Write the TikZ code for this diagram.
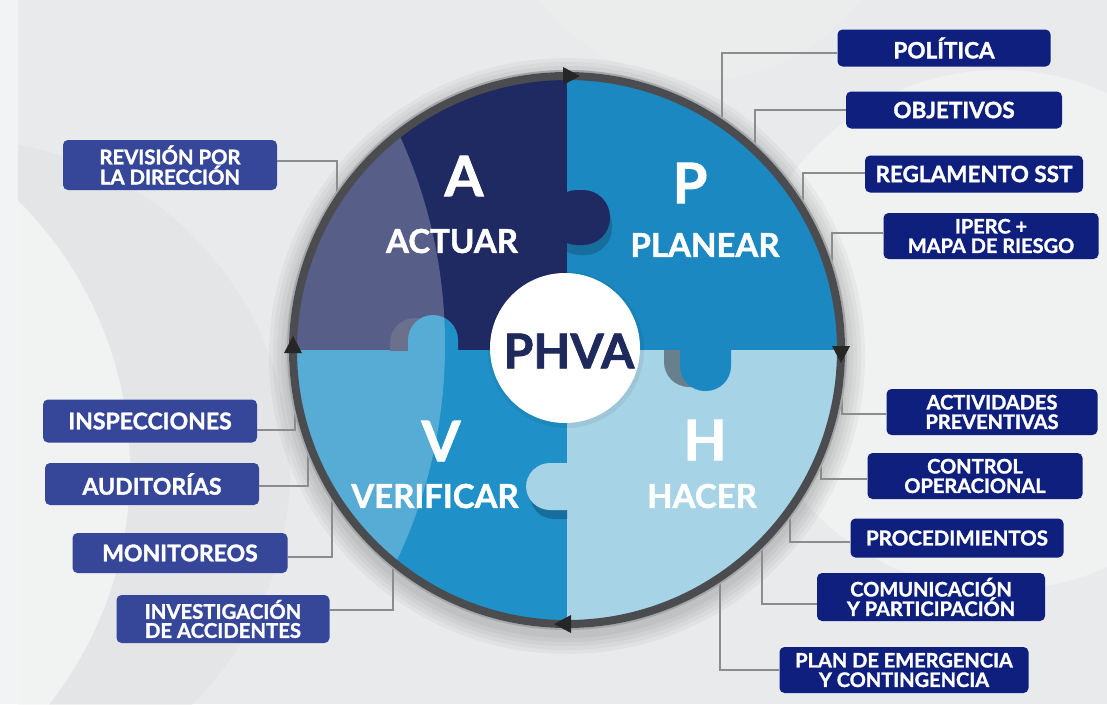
\documentclass[tikz,border=0pt]{standalone}
\usepackage{fontspec}
\setmainfont{Lato}[BoldFeatures={FakeBold=1.5}]
\usetikzlibrary{calc}
\definecolor{bgc}{HTML}{E8EAEB}
\definecolor{navyq}{HTML}{1F2A62}
\definecolor{pq}{HTML}{1B88C2}
\definecolor{vq}{HTML}{1F91C8}
\definecolor{hq}{HTML}{A7D3E6}
\definecolor{ringc}{HTML}{4B4C50}
\definecolor{rbox}{HTML}{0E1F7E}
\definecolor{lbox}{HTML}{36479A}
\definecolor{phvac}{HTML}{1F2A5C}
\definecolor{linec}{HTML}{8C8C8C}
\definecolor{shteal}{HTML}{176E9C}
\definecolor{shgrey}{HTML}{687F8C}
\definecolor{shnavy}{HTML}{3A4168}
\tikzset{
 rb/.style={fill=rbox, rounded corners=5pt, text=white, font=\bfseries\fontsize{22.5}{23}\selectfont, align=center, inner sep=0pt, minimum height=37pt},
 rb2/.style={rb, font=\bfseries\fontsize{20}{19.5}\selectfont, minimum height=46pt},
 lb/.style={rb, fill=lbox, font=\bfseries\fontsize{23}{24}\selectfont, minimum height=42pt},
 lb2/.style={lb, font=\bfseries\fontsize{20.3}{19}\selectfont, minimum height=49pt},
 conn/.style={draw=linec, line width=1.2pt},
 bigl/.style={text=white, font=\bfseries\fontsize{56}{56}\selectfont},
 wordl/.style={text=white, font=\bfseries\fontsize{33}{33}\selectfont},
 tri/.style={fill=black!85},
}
\begin{document}
\begin{tikzpicture}[x=1pt,y=-1pt]
\useasboundingbox (0,0) rectangle (1107,704);
% background
\fill[bgc] (0,0) rectangle (1107,704);
\fill[white,opacity=0.45] (0,0) rectangle (18,704);
\begin{scope}
\clip (18,0) rectangle (1107,704);
\fill[black!12,opacity=0.45] (-40,470) circle (330pt);
\fill[white,opacity=0.5] (-250,470) circle (380pt);
\fill[white,opacity=0.35] (1000,330) circle (260pt);
\fill[white,opacity=0.15] (700,-120) circle (200pt);
\end{scope}
% circle shadow
\foreach \r in {282,286,290,294,298}
  \fill[black,opacity=0.035] (567,356) circle (\r pt);

% connector end points (under the wheel)
\coordinate (cpol) at (722,141);
\coordinate (cobj) at (755,170);
\coordinate (creg) at (803,241);
\coordinate (cipe) at (832,300);
\coordinate (cact) at (842,372);
\coordinate (ccon) at (821,435);
\coordinate (cpro) at (790,499);
\coordinate (ccom) at (762,534);
\coordinate (cpla) at (720,570);
\coordinate (crev) at (337,212);
\coordinate (cins) at (295,385);
\coordinate (caud) at (308,419);
\coordinate (cmon) at (332,479);
\coordinate (cinv) at (393,554);

% boxes right
\node[rb, minimum width=213pt] (pol) at (944,48) {POLÍTICA};
\node[rb, minimum width=216pt] (obj) at (954,110) {OBJETIVOS};
\node[rb, minimum width=218pt] (reg) at (974,174) {REGLAMENTO SST};
\node[rb2, minimum width=215pt] (ipe) at (991,236) {IPERC +\\MAPA DE RIESGO};
\node[rb2, minimum width=211pt] (act) at (992,412) {ACTIVIDADES\\PREVENTIVAS};
\node[rb2, minimum width=215pt] (con) at (975,476) {CONTROL\\OPERACIONAL};
\node[rb, font=\bfseries\fontsize{20.5}{21}\selectfont, minimum width=213pt, minimum height=39pt] (pro) at (957,538) {PROCEDIMIENTOS};
\node[rb2, minimum width=228pt, minimum height=48pt] (com) at (931,597) {COMUNICACIÓN\\Y PARTICIPACIÓN};
\node[rb2, minimum width=249pt] (pla) at (904,670) {PLAN DE EMERGENCIA\\Y CONTINGENCIA};
% boxes left
\node[lb2, minimum width=214pt, minimum height=50pt] (rev) at (170,165) {REVISIÓN POR\\LA DIRECCIÓN};
\node[lb, minimum width=214pt, minimum height=43pt] (ins) at (150,421) {INSPECCIONES};
\node[lb, minimum width=214pt] (aud) at (152,484) {AUDITORÍAS};
\node[lb, minimum width=215pt, minimum height=40pt] (mon) at (180,553) {MONITOREOS};
\node[lb2, minimum width=213pt, minimum height=48pt] (inv) at (223,619) {INVESTIGACIÓN\\DE ACCIDENTES};

% connectors
\draw[conn] ([yshift=-5pt]pol.west) -| (cpol);
\draw[conn] (obj.west) -| (cobj);
\draw[conn] ([yshift=1pt]reg.west) -| (creg);
\draw[conn] ([yshift=3pt]ipe.west) -| (cipe);
\draw[conn] ([yshift=-2pt]act.west) -| (cact);
\draw[conn] ([yshift=-3pt]con.west) -| (ccon);
\draw[conn] ([yshift=-4pt]pro.west) -| (cpro);
\draw[conn] ([yshift=-7pt]com.west) -| (ccom);
\draw[conn] (pla.west) -| (cpla);
\draw[conn] ([yshift=4pt]rev.east) -| (crev);
\draw[conn] ([yshift=-9pt]ins.east) -| (cins);
\draw[conn] ([yshift=-2pt]aud.east) -| (caud);
\draw[conn] ([yshift=-4pt]mon.east) -| (cmon);
\draw[conn] ([yshift=9pt]inv.east) -| (cinv);

% wheel
\begin{scope}
\clip (567,350) circle (276pt);
\fill[navyq] (267,50) rectangle (567,350);
\fill[pq] (567,50) rectangle (867,350);
\fill[vq] (267,350) rectangle (567,650);
\fill[hq] (567,350) rectangle (867,650);
% tab A -> P
\begin{scope}
\clip (567,50) rectangle (867,350);
\fill[shteal, rounded corners=27pt] (553,198) rectangle (612,255);
\end{scope}
\fill[navyq, rounded corners=27pt] (550,190) rectangle (610,245);
% tab P -> H
\begin{scope}
\clip (567,350) rectangle (867,650);
\fill[shgrey, rounded corners=25pt] (664,325) rectangle (716,387);
\end{scope}
\fill[pq, rounded corners=25pt] (680,325) rectangle (731,391);
% tab V -> A
\begin{scope}
\clip (267,50) rectangle (567,350);
\fill[shnavy, rounded corners=25pt] (390,318) rectangle (440,375);
\end{scope}
\fill[vq, rounded corners=25pt] (408,315) rectangle (458,375);
% tab H -> V
\begin{scope}
\clip (267,350) rectangle (567,650);
\fill[shteal, rounded corners=24pt] (530,472) rectangle (590,519);
\end{scope}
\fill[hq, rounded corners=24pt] (526,463) rectangle (590,510);
% light lens on the left
\fill[white,opacity=0.25] (-60,345) circle (505pt);
\end{scope}
% ring
\draw[black!35, line width=2pt] (567,350) circle (279pt);
\draw[ringc, line width=8pt] (567,350) circle (274pt);
% arrow heads
\fill[tri] (563,67) -- (580,76) -- (563,85) -- cycle;
\fill[tri] (832,346) -- (841,363) -- (850,346) -- cycle;
\fill[tri] (571,615) -- (554,624) -- (571,633) -- cycle;
\fill[tri] (284,353) -- (293,336) -- (302,353) -- cycle;

% centre
\fill[black,opacity=0.06] (566,350) circle (78pt);
\node[circle, fill=white, minimum size=150pt, inner sep=0pt] (ctr) at (565,348) {};
\node[text=phvac, font=\bfseries\fontsize{48}{48}\selectfont] (phva) at (569,351) {PHVA};

% quadrant labels
\node[bigl] (la) at (464,176) {A};
\node[wordl] (wa) at (452,241) {ACTUAR};
\node[bigl] (lp) at (690,183) {P};
\node[wordl] (wp) at (705,245) {PLANEAR};
\node[bigl] (lv) at (441,441) {V};
\node[wordl] (wv) at (435,496) {VERIFICAR};
\node[bigl] (lh) at (705,440) {H};
\node[wordl] (wh) at (702,496) {HACER};
\end{tikzpicture}
\end{document}
